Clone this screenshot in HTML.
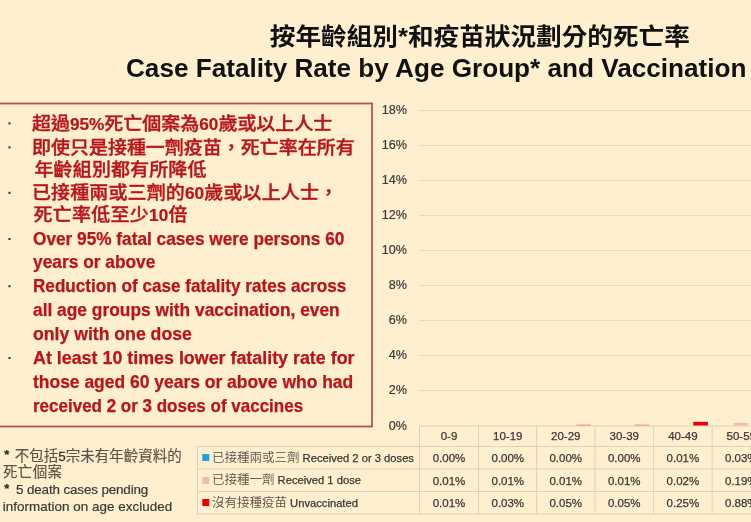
<!DOCTYPE html>
<html><head><meta charset="utf-8">
<style>
html,body{margin:0;padding:0;background:#FEF0CE;width:751px;height:522px;overflow:hidden}
svg{display:block}
.t{font-family:"Liberation Sans","Noto Sans CJK TC",sans-serif;font-weight:bold;fill:#111}
.r{font-family:"Liberation Sans","Noto Sans CJK TC",sans-serif;font-weight:bold;fill:#B81419;stroke:#B81419;stroke-width:0.25px}
.c{font-family:"Noto Sans CJK TC",sans-serif}
.g{font-family:"Liberation Sans","Noto Sans CJK TC",sans-serif;fill:#383838;stroke:#383838;stroke-width:0.2px}
.ax{font-family:"Liberation Sans",sans-serif;fill:#3a3a3a;font-size:12.6px;stroke:#3a3a3a;stroke-width:0.2px}
.tb{font-family:"Liberation Sans","Noto Sans CJK TC",sans-serif;fill:#383838;font-size:11.5px;stroke:#383838;stroke-width:0.25px}
.cj{font-family:"Noto Sans CJK TC",sans-serif;font-size:12.5px;fill:#575049;font-weight:350;stroke:none}
</style></head>
<body>
<svg width="751" height="522" viewBox="0 0 751 522">
<rect x="0" y="0" width="751" height="522" fill="#FEF0CE"/>

<!-- Title -->
<text class="t" x="269.8" y="45.4" font-size="25.65" transform="translate(0,45.4) scale(1,0.93) translate(0,-45.4)">按年齡組別*和疫苗狀況劃分的死亡率</text>
<text class="t" x="126" y="76.8" font-size="26.13">Case Fatality Rate by Age Group* and Vaccination</text>

<!-- red box -->
<rect x="-5" y="103.5" width="377" height="323" fill="none" stroke="#B0574A" stroke-width="1.8"/>

<!-- bullets -->
<g fill="#3a2418">
<rect x="8.5" y="122.4" width="2" height="2"/>
<rect x="8.5" y="146.4" width="2" height="2"/>
<rect x="8.5" y="191.8" width="2" height="2"/>
<rect x="8.5" y="238" width="2" height="2"/>
<rect x="8.5" y="285.2" width="2" height="2"/>
<rect x="8.5" y="357" width="2" height="2"/>
</g>

<g class="r">
<text x="32" y="130.5" transform="translate(0,130.5) scale(1,0.93) translate(0,-130.5)" font-size="19" font-weight="500" stroke="#B81419" stroke-width="0.4">超過<tspan font-size="17.2" font-weight="bold" stroke-width="0.25">95%</tspan>死亡個案為<tspan font-size="17.2" font-weight="bold" stroke-width="0.25">60</tspan>歲或以上人士</text>
<text x="32" y="153.7" transform="translate(0,153.7) scale(1,0.93) translate(0,-153.7)" font-size="19" font-weight="500" stroke="#B81419" stroke-width="0.4">即使只是接種一劑疫苗，死亡率在所有</text>
<text x="34.5" y="175.7" transform="translate(0,175.7) scale(1,0.93) translate(0,-175.7)" font-size="19" font-weight="500" stroke="#B81419" stroke-width="0.4" textLength="172">年齡組別都有所降低</text>
<text x="32" y="198.7" transform="translate(0,198.7) scale(1,0.93) translate(0,-198.7)" font-size="19" font-weight="500" stroke="#B81419" stroke-width="0.4" textLength="306">已接種兩或三劑的<tspan font-size="17.2" font-weight="bold" stroke-width="0.25">60</tspan>歲或以上人士，</text>
<text x="33.5" y="221.2" transform="translate(0,221.2) scale(1,0.93) translate(0,-221.2)" font-size="19" font-weight="500" stroke="#B81419" stroke-width="0.4" textLength="154">死亡率低至少<tspan font-size="17.2" font-weight="bold" stroke-width="0.25">10</tspan>倍</text>
<text x="33" y="244.6" font-size="17.8" textLength="311.4" lengthAdjust="spacingAndGlyphs">Over 95% fatal cases were persons 60</text>
<text x="33" y="267.8" font-size="17.8" textLength="122.4" lengthAdjust="spacingAndGlyphs">years or above</text>
<text x="33" y="291.8" font-size="17.8" textLength="313.3" lengthAdjust="spacingAndGlyphs">Reduction of case fatality rates across</text>
<text x="33" y="315.8" font-size="17.8" textLength="306.7" lengthAdjust="spacingAndGlyphs">all age groups with vaccination, even</text>
<text x="33" y="339.5" font-size="17.8" textLength="158.8" lengthAdjust="spacingAndGlyphs">only with one dose</text>
<text x="33" y="364.1" font-size="17.8" textLength="321.5" lengthAdjust="spacingAndGlyphs">At least 10 times lower fatality rate for</text>
<text x="33" y="388" font-size="17.8" textLength="320.2" lengthAdjust="spacingAndGlyphs">those aged 60 years or above who had</text>
<text x="33" y="411.8" font-size="17.8" textLength="270.1" lengthAdjust="spacingAndGlyphs">received 2 or 3 doses of vaccines</text>
</g>

<!-- gridlines -->
<g stroke="#E2DBC6" stroke-width="1">
<line x1="419" y1="110.5" x2="751" y2="110.5"/>
<line x1="419" y1="145.5" x2="751" y2="145.5"/>
<line x1="419" y1="180.5" x2="751" y2="180.5"/>
<line x1="419" y1="215.5" x2="751" y2="215.5"/>
<line x1="419" y1="250.5" x2="751" y2="250.5"/>
<line x1="419" y1="285.5" x2="751" y2="285.5"/>
<line x1="419" y1="320.5" x2="751" y2="320.5"/>
<line x1="419" y1="355.5" x2="751" y2="355.5"/>
<line x1="419" y1="390.5" x2="751" y2="390.5"/>
</g>

<!-- y labels -->
<g class="ax" text-anchor="end">
<text x="407" y="114">18%</text>
<text x="407" y="149">16%</text>
<text x="407" y="184">14%</text>
<text x="407" y="219">12%</text>
<text x="407" y="254">10%</text>
<text x="407" y="289">8%</text>
<text x="407" y="324">6%</text>
<text x="407" y="359">4%</text>
<text x="407" y="394">2%</text>
<text x="407" y="430">0%</text>
</g>

<!-- table lines -->
<g stroke="#D8D2C4" stroke-width="1">
<line x1="419" y1="426" x2="751" y2="426"/>
<line x1="197" y1="446.5" x2="751" y2="446.5"/>
<line x1="197" y1="469" x2="751" y2="469"/>
<line x1="197" y1="491.5" x2="751" y2="491.5"/>
<line x1="197" y1="514" x2="751" y2="514"/>
<line x1="197.5" y1="446.5" x2="197.5" y2="514"/>
<line x1="419.5" y1="426" x2="419.5" y2="514"/>
<line x1="478.5" y1="426" x2="478.5" y2="514"/>
<line x1="536.6" y1="426" x2="536.6" y2="514"/>
<line x1="594.9" y1="426" x2="594.9" y2="514"/>
<line x1="653.6" y1="426" x2="653.6" y2="514"/>
<line x1="712.2" y1="426" x2="712.2" y2="514"/>
</g>

<!-- bars -->
<rect x="576.5" y="424.62" width="14.5" height="0.88" fill="#E8000B" opacity="0.45"/>
<rect x="635.0" y="424.62" width="14.5" height="0.88" fill="#E8000B" opacity="0.45"/>
<rect x="693.3" y="421.8" width="14.6" height="3.7" fill="#E2000E"/>
<rect x="733.8" y="422.9" width="14" height="2.6" fill="#F2B8A4"/>
<rect x="752.0" y="410.09" width="14.5" height="15.41" fill="#E8000B"/>

<!-- legend squares -->
<rect x="202.3" y="454" width="7" height="7" fill="#1CA3E0"/>
<rect x="202.3" y="477" width="7" height="7" fill="#EBC0A0"/>
<rect x="202.3" y="499" width="7" height="7" fill="#EE0000"/>

<g class="tb">
<text x="212" y="461.8" font-size="11.2"><tspan class="cj">已接種兩或三劑</tspan> Received 2 or 3 doses</text>
<text x="212" y="484.4" font-size="11.2"><tspan class="cj">已接種一劑</tspan> Received 1 dose</text>
<text x="212" y="507.1" font-size="11.2"><tspan class="cj">沒有接種疫苗</tspan> Unvaccinated</text>
</g>

<g class="tb" text-anchor="middle">
<text x="449" y="440">0-9</text>
<text x="507.8" y="440">10-19</text>
<text x="565.75" y="440">20-29</text>
<text x="624.25" y="440">30-39</text>
<text x="682.9" y="440">40-49</text>
<text x="741.3" y="440">50-59</text>
<text x="449" y="462">0.00%</text>
<text x="507.8" y="462">0.00%</text>
<text x="565.75" y="462">0.00%</text>
<text x="624.25" y="462">0.00%</text>
<text x="682.9" y="462">0.01%</text>
<text x="741.3" y="462">0.03%</text>
<text x="449" y="484.5">0.01%</text>
<text x="507.8" y="484.5">0.01%</text>
<text x="565.75" y="484.5">0.01%</text>
<text x="624.25" y="484.5">0.01%</text>
<text x="682.9" y="484.5">0.02%</text>
<text x="741.3" y="484.5">0.19%</text>
<text x="449" y="507">0.01%</text>
<text x="507.8" y="507">0.03%</text>
<text x="565.75" y="507">0.05%</text>
<text x="624.25" y="507">0.05%</text>
<text x="682.9" y="507">0.25%</text>
<text x="741.3" y="507">0.88%</text>
</g>

<!-- footnote -->
<g class="g">
<text x="4.2" y="458.6" font-size="13" font-weight="bold" fill="#222">*</text>
<text x="14.7" y="461" font-size="14.5" font-weight="400" fill="#5A5448" stroke="#5A5448" stroke-width="0.15" font-family="Liberation Sans, Noto Sans CJK TC, sans-serif">不包括<tspan font-size="13.4" font-weight="400" fill="#333" stroke="#333" stroke-width="0.3">5</tspan>宗未有年齡資料的</text>
<text x="3" y="477.3" font-size="14.5" font-weight="400" fill="#5A5448" stroke="#5A5448" stroke-width="0.15" textLength="59">死亡個案</text>
<text x="4.2" y="492.9" font-size="13" font-weight="bold" fill="#222">*</text>
<text x="16" y="494.2" font-size="13.4" textLength="132.3">5 death cases pending</text>
<text x="2.7" y="510.7" font-size="13.4" textLength="169.6">information on age excluded</text>
</g>
</svg>
</body></html>
